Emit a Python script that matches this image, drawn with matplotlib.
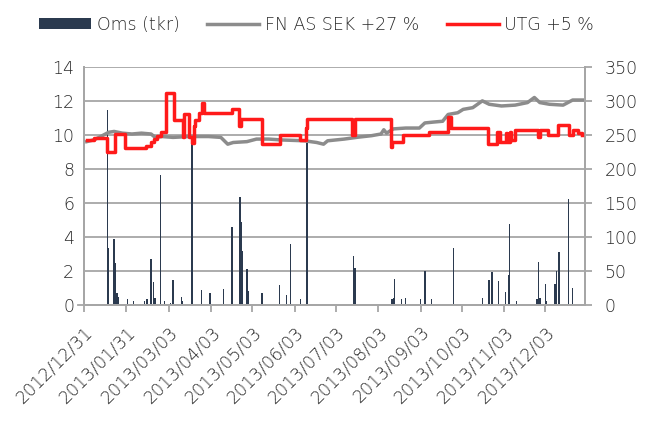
import matplotlib
matplotlib.use("Agg")
import matplotlib.pyplot as plt
from matplotlib.patches import Patch
from matplotlib.lines import Line2D
import pandas as pd

# ---------------- data ----------------
bar_dates = ["2013-01-17", "2013-01-18", "2013-01-22", "2013-01-23", "2013-01-24", "2013-01-25",
             "2013-02-01", "2013-02-05", "2013-02-13", "2013-02-15", "2013-02-18", "2013-02-20",
             "2013-02-21", "2013-02-25", "2013-02-28", "2013-03-04", "2013-03-06", "2013-03-12",
             "2013-03-13", "2013-03-20", "2013-03-27", "2013-04-02", "2013-04-12", "2013-04-18",
             "2013-04-24", "2013-04-25", "2013-04-26", "2013-04-29", "2013-04-30", "2013-05-10",
             "2013-05-23", "2013-05-28", "2013-05-31", "2013-06-07", "2013-06-12", "2013-07-16",
             "2013-07-17", "2013-08-13", "2013-08-14", "2013-08-15", "2013-08-20", "2013-08-23",
             "2013-09-03", "2013-09-06", "2013-09-11", "2013-09-27", "2013-10-18", "2013-10-23",
             "2013-10-25", "2013-10-30", "2013-11-04", "2013-11-06", "2013-11-07", "2013-11-12",
             "2013-11-27", "2013-11-28", "2013-11-29", "2013-12-03", "2013-12-04", "2013-12-10",
             "2013-12-11", "2013-12-13", "2013-12-20", "2013-12-23"]
bar_values = [286, 83, 96, 62, 17, 12,
              8, 5, 6, 9, 67, 34,
              10, 191, 5, 3, 37, 11,
              6, 237, 22, 17, 23, 115,
              159, 122, 79, 53, 20, 17,
              29, 15, 89, 9, 238, 71,
              54, 9, 10, 38, 9, 10,
              9, 50, 8, 84, 10, 37,
              48, 35, 19, 44, 119, 5,
              8, 63, 10, 31, 5, 31,
              50, 78, 155, 25]

fn_dates = ["2013-01-02", "2013-01-07", "2013-01-11", "2013-01-18", "2013-01-22", "2013-01-28",
            "2013-02-04", "2013-02-11", "2013-02-18", "2013-02-21", "2013-02-26", "2013-03-06",
            "2013-03-18", "2013-04-01", "2013-04-10", "2013-04-15", "2013-04-19", "2013-04-29",
            "2013-05-06", "2013-05-15", "2013-05-24", "2013-06-10", "2013-06-19", "2013-06-24",
            "2013-06-27", "2013-07-09", "2013-07-19", "2013-07-29", "2013-08-05", "2013-08-07",
            "2013-08-09", "2013-08-14", "2013-08-23", "2013-09-02", "2013-09-06", "2013-09-12",
            "2013-09-19", "2013-09-23", "2013-09-30", "2013-10-04", "2013-10-11", "2013-10-18",
            "2013-10-23", "2013-11-01", "2013-11-11", "2013-11-20", "2013-11-25", "2013-11-29",
            "2013-12-06", "2013-12-16", "2013-12-23", "2013-12-30"]
fn_values = [9.6, 9.7, 9.85, 10.15, 10.2, 10.1,
             10.05, 10.1, 10.05, 9.85, 9.9, 9.85,
             9.9, 9.9, 9.85, 9.45, 9.55, 9.6,
             9.75, 9.75, 9.7, 9.65, 9.55, 9.45,
             9.65, 9.75, 9.86, 9.95, 10.05, 10.3,
             10.1, 10.35, 10.4, 10.4, 10.7, 10.75,
             10.8, 11.2, 11.3, 11.5, 11.6, 12.0,
             11.8, 11.7, 11.75, 11.9, 12.2, 11.9,
             11.8, 11.75, 12.05, 12.05]

utg_dates = ["2013-01-02", "2013-01-07", "2013-01-17", "2013-01-23", "2013-01-30", "2013-02-14",
             "2013-02-18", "2013-02-20", "2013-02-22", "2013-02-25", "2013-03-01", "2013-03-07",
             "2013-03-13", "2013-03-14", "2013-03-18", "2013-03-20", "2013-03-21", "2013-03-22",
             "2013-03-25", "2013-03-27", "2013-03-29", "2013-04-18", "2013-04-23", "2013-04-25",
             "2013-05-10", "2013-05-23", "2013-06-07", "2013-06-11", "2013-06-12", "2013-07-15",
             "2013-07-17", "2013-08-12", "2013-08-13", "2013-08-21", "2013-09-09", "2013-09-23",
             "2013-09-25", "2013-10-22", "2013-10-29", "2013-10-31", "2013-11-04", "2013-11-05",
             "2013-11-07", "2013-11-08", "2013-11-11", "2013-11-28", "2013-11-29", "2013-12-05",
             "2013-12-12", "2013-12-20", "2013-12-23", "2013-12-27", "2013-12-30"]
utg_values = [9.7, 9.8, 9.0, 10.05, 9.2, 9.35,
              9.55, 9.75, 9.95, 10.15, 12.45, 10.9,
              9.9, 11.25, 9.9, 9.5, 10.5, 10.9,
              11.3, 11.85, 11.26, 11.5, 10.55, 10.96,
              9.49, 9.98, 9.69, 10.4, 10.96, 9.98,
              10.96, 9.29, 9.59, 9.98, 10.18, 11.06,
              10.38, 9.49, 10.18, 9.55, 10.1, 9.55,
              10.18, 9.7, 10.28, 9.9, 10.28, 9.98,
              10.57, 9.98, 10.28, 10.1, 9.98]

tick_labels = ["2012/12/31", "2013/01/31", "2013/03/03", "2013/04/03", "2013/05/03", "2013/06/03",
               "2013/07/03", "2013/08/03", "2013/09/03", "2013/10/03", "2013/11/03", "2013/12/03"]

legend_labels = ["Oms (tkr)", "FN AS SEK +27 %", "UTG +5 %"]

# ---------------- style ----------------
BAR_C = "#2b3a4f"
FN_C = "#8c8c8c"
UTG_C = "#ff1a1a"
GRID_C = "#a6a6a6"
TXT_C = "#2a2a2a"
FS = 12.5
FW = "light"

plt.rcParams["font.family"] = ["DejaVu Sans"]
plt.rcParams["font.weight"] = FW

fig = plt.figure(figsize=(6.46, 4.21), dpi=100)
ax = fig.add_axes([84 / 646, 116.3 / 421, (585 - 84) / 646, 237.8 / 421])
ax2 = ax.twinx()

bd = pd.to_datetime(bar_dates)
ax2.bar(bd, bar_values, width=1.0, color=BAR_C, linewidth=0, zorder=2)
ax2.set_ylim(0, 350)
ax2.set_yticks(range(0, 351, 50))
ax2.yaxis.grid(True, color=GRID_C, linewidth=1.3, zorder=0)
ax2.set_axisbelow(True)

ax.plot(pd.to_datetime(fn_dates), fn_values, color=FN_C, linewidth=2.5, zorder=3)
ax.plot(pd.to_datetime(utg_dates), utg_values, color=UTG_C, linewidth=2.5,
        drawstyle="steps-post", zorder=4)
ax.set_ylim(0, 14)
ax.set_yticks(range(0, 15, 2))

ax.set_zorder(ax2.get_zorder() + 1)
ax.patch.set_visible(False)

ax.set_xlim(pd.Timestamp("2012-12-31"), pd.Timestamp("2014-01-01"))
ticks = pd.to_datetime(tick_labels, format="%Y/%m/%d")
ax.set_xticks(ticks)
ax.set_xticklabels(tick_labels, rotation=45, ha="right", rotation_mode="anchor")

for a in (ax, ax2):
    for s in a.spines.values():
        s.set_color(GRID_C)
        s.set_linewidth(1.3)
    a.spines["top"].set_visible(False)

ax.tick_params(axis="x", colors=GRID_C, length=5, width=1.3, labelcolor=TXT_C,
               labelsize=FS, pad=8)
ax.tick_params(axis="y", length=0, labelcolor=TXT_C, labelsize=FS, pad=7)
ax2.tick_params(axis="y", colors=GRID_C, length=5, width=1.3, labelcolor=TXT_C,
                labelsize=FS, pad=9)

# small extension of the category axis to the left
ax.plot([-0.012, 0], [0, 0], transform=ax.transAxes, color=GRID_C, linewidth=1.3,
        clip_on=False)

handles = [Patch(facecolor=BAR_C, edgecolor="none"),
           Line2D([], [], color=FN_C, linewidth=2.5),
           Line2D([], [], color=UTG_C, linewidth=2.5)]
leg = fig.legend(handles, legend_labels, loc="upper center", bbox_to_anchor=(0.49, 1.0),
                 ncol=3, frameon=False, fontsize=FS, handlelength=3.0,
                 handletextpad=0.3, columnspacing=1.6, handleheight=0.6)
for t in leg.get_texts():
    t.set_color(TXT_C)

fig.savefig("out.png", dpi=100)
